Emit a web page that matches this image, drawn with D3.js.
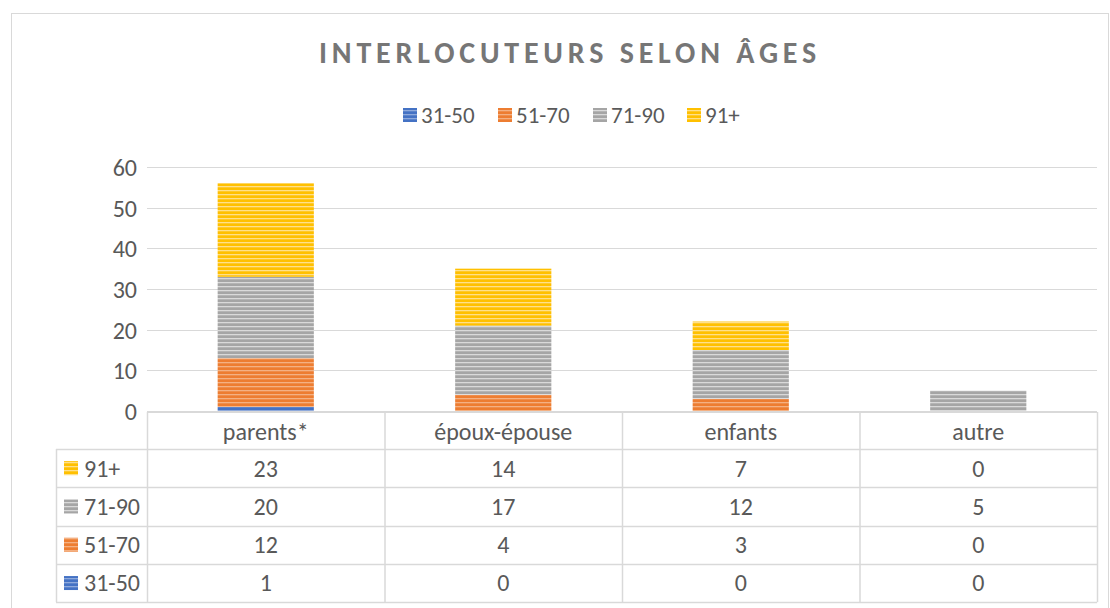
<!DOCTYPE html>
<html>
<head>
<meta charset="utf-8">
<script src="https://cdn.jsdelivr.net/npm/d3@7"></script>
<style>
  body { margin: 0; background: #fff; }
  text { font-family: Calibri, Carlito, "Open Sans", sans-serif; fill: #595959; }
</style>
</head>
<body>
<div id="chart"></div>
<script>
var categories = ["parents*", "époux-épouse", "enfants", "autre"];
var seriesNames = ["31-50", "51-70", "71-90", "91+"];
var seriesColors = ["#4472C4", "#ED7D31", "#A5A5A5", "#FFC000"];
var seriesLight = ["#8FAADC", "#F4B183", "#D9D9D9", "#FFE08A"];
var v3150 = [1, 0, 0, 0];
var v5170 = [12, 4, 3, 0];
var v7190 = [20, 17, 12, 5];
var v91 = [23, 14, 7, 0];
var yTicks = [0, 10, 20, 30, 40, 50, 60];

var width = 1110, height = 608;
var margin = { left: 147, right: 1097, top: 167, bottom: 411 };

var svg = d3.select("#chart").append("svg")
  .attr("width", width)
  .attr("height", height);

// striped fills
var defs = svg.append("defs");
seriesNames.forEach(function (s, i) {
  var p = defs.append("pattern")
    .attr("id", "stripe" + i)
    .attr("patternUnits", "userSpaceOnUse")
    .attr("width", 8)
    .attr("height", 4);
  p.append("rect").attr("width", 8).attr("height", 4).attr("fill", seriesColors[i]);
  p.append("rect").attr("y", 2).attr("width", 8).attr("height", 1.3).attr("fill", seriesLight[i]);
});

// chart border
svg.append("rect")
  .attr("x", 11.5).attr("y", 13.5)
  .attr("width", 1097).attr("height", 600)
  .attr("fill", "none").attr("stroke", "#d9d9d9");

svg.append("text")
  .attr("x", 570).attr("y", 63)
  .attr("text-anchor", "middle")
  .style("font-size", "30px")
  .style("font-weight", "bold")
  .style("letter-spacing", "4.8px")
  .style("fill", "#767676")
  .text("INTERLOCUTEURS SELON ÂGES");

var x = d3.scaleBand().domain(categories).range([margin.left, margin.right]).paddingInner(0).paddingOuter(0);
var y = d3.scaleLinear().domain([0, 60]).range([margin.bottom, margin.top]);

// gridlines
svg.append("g").selectAll("line").data(yTicks.filter(function (d) { return d > 0; })).join("line")
  .attr("x1", margin.left).attr("x2", margin.right)
  .attr("y1", function (d) { return Math.round(y(d)) + 0.5; })
  .attr("y2", function (d) { return Math.round(y(d)) + 0.5; })
  .attr("stroke", "#d9d9d9");

var yAxis = svg.append("g")
  .attr("transform", "translate(" + (margin.left - 10) + ",0)")
  .call(d3.axisLeft(y).tickValues(yTicks).tickSize(0).tickPadding(0));
yAxis.select(".domain").remove();
yAxis.selectAll("text").style("font-size", "24px").attr("dy", "0.35em");

// stacked bars
var rows = categories.map(function (c, i) {
  return { cat: c, "31-50": v3150[i], "51-70": v5170[i], "71-90": v7190[i], "91+": v91[i] };
});
var stacked = d3.stack().keys(seriesNames)(rows);
var bw = x.bandwidth() * 0.405;

svg.append("g").selectAll("g").data(stacked).join("g")
  .attr("fill", function (d, i) { return "url(#stripe" + i + ")"; })
  .selectAll("rect").data(function (d) { return d; }).join("rect")
  .attr("x", function (d) { return x(d.data.cat) + (x.bandwidth() - bw) / 2; })
  .attr("width", bw)
  .attr("y", function (d) { return y(d[1]); })
  .attr("height", function (d) { return y(d[0]) - y(d[1]); });

// legend
var legendX = [403, 498, 593, 687];
var lg = svg.append("g").selectAll("g").data(seriesNames).join("g")
  .attr("transform", function (d, i) { return "translate(" + legendX[i] + ",108)"; });
lg.append("rect").attr("width", 14).attr("height", 14)
  .attr("fill", function (d, i) { return "url(#stripe" + i + ")"; });
lg.append("text").attr("x", 18).attr("y", 7).attr("dy", "0.35em")
  .style("font-size", "23px").text(function (d) { return d; });

// data table
var tHeadTop = 413, tHeadBot = 449, rowH = 38.3, legLeft = 56;
var table = svg.append("g");
var tableRows = [
  { name: "91+", idx: 3, vals: v91 },
  { name: "71-90", idx: 2, vals: v7190 },
  { name: "51-70", idx: 1, vals: v5170 },
  { name: "31-50", idx: 0, vals: v3150 }
];
var tBot = tHeadBot + rowH * tableRows.length;
var lineColor = "#d9d9d9";
// horizontal lines
table.append("line").attr("x1", margin.left).attr("x2", margin.right)
  .attr("y1", tHeadTop - 1).attr("y2", tHeadTop - 1).attr("stroke", lineColor).attr("stroke-width", 2);
d3.range(tableRows.length + 1).forEach(function (r) {
  var yy = Math.round(tHeadBot + r * rowH) + 0.5;
  table.append("line").attr("x1", legLeft).attr("x2", margin.right)
    .attr("y1", yy).attr("y2", yy).attr("stroke", lineColor).attr("stroke-width", 1.5);
});
// vertical lines
categories.concat(["end"]).forEach(function (c, i) {
  var xx = (i < categories.length ? x(c) : margin.right) + 0.5;
  table.append("line").attr("x1", xx).attr("x2", xx)
    .attr("y1", tHeadTop - 1).attr("y2", tBot).attr("stroke", lineColor).attr("stroke-width", 1.5);
});
table.append("line").attr("x1", legLeft + 0.5).attr("x2", legLeft + 0.5)
  .attr("y1", tHeadBot).attr("y2", tBot).attr("stroke", lineColor).attr("stroke-width", 1.5);

table.selectAll(".hd").data(categories).join("text")
  .attr("class", "hd")
  .attr("x", function (d) { return x(d) + x.bandwidth() / 2; })
  .attr("y", (tHeadTop + tHeadBot) / 2 + 1).attr("dy", "0.35em")
  .attr("text-anchor", "middle").style("font-size", "24px")
  .text(function (d) { return d; });

tableRows.forEach(function (r, ri) {
  var cy = tHeadBot + ri * rowH + rowH / 2;
  table.append("rect").attr("x", 64).attr("y", cy - 7).attr("width", 14).attr("height", 14)
    .attr("fill", "url(#stripe" + r.idx + ")");
  table.append("text").attr("x", 84).attr("y", cy).attr("dy", "0.35em")
    .style("font-size", "24px").text(r.name);
  table.selectAll(".v" + ri).data(r.vals).join("text")
    .attr("x", function (d, i) { return x(categories[i]) + x.bandwidth() / 2; })
    .attr("y", cy).attr("dy", "0.35em")
    .attr("text-anchor", "middle").style("font-size", "24px")
    .text(function (d) { return d; });
});
</script>
</body>
</html>
